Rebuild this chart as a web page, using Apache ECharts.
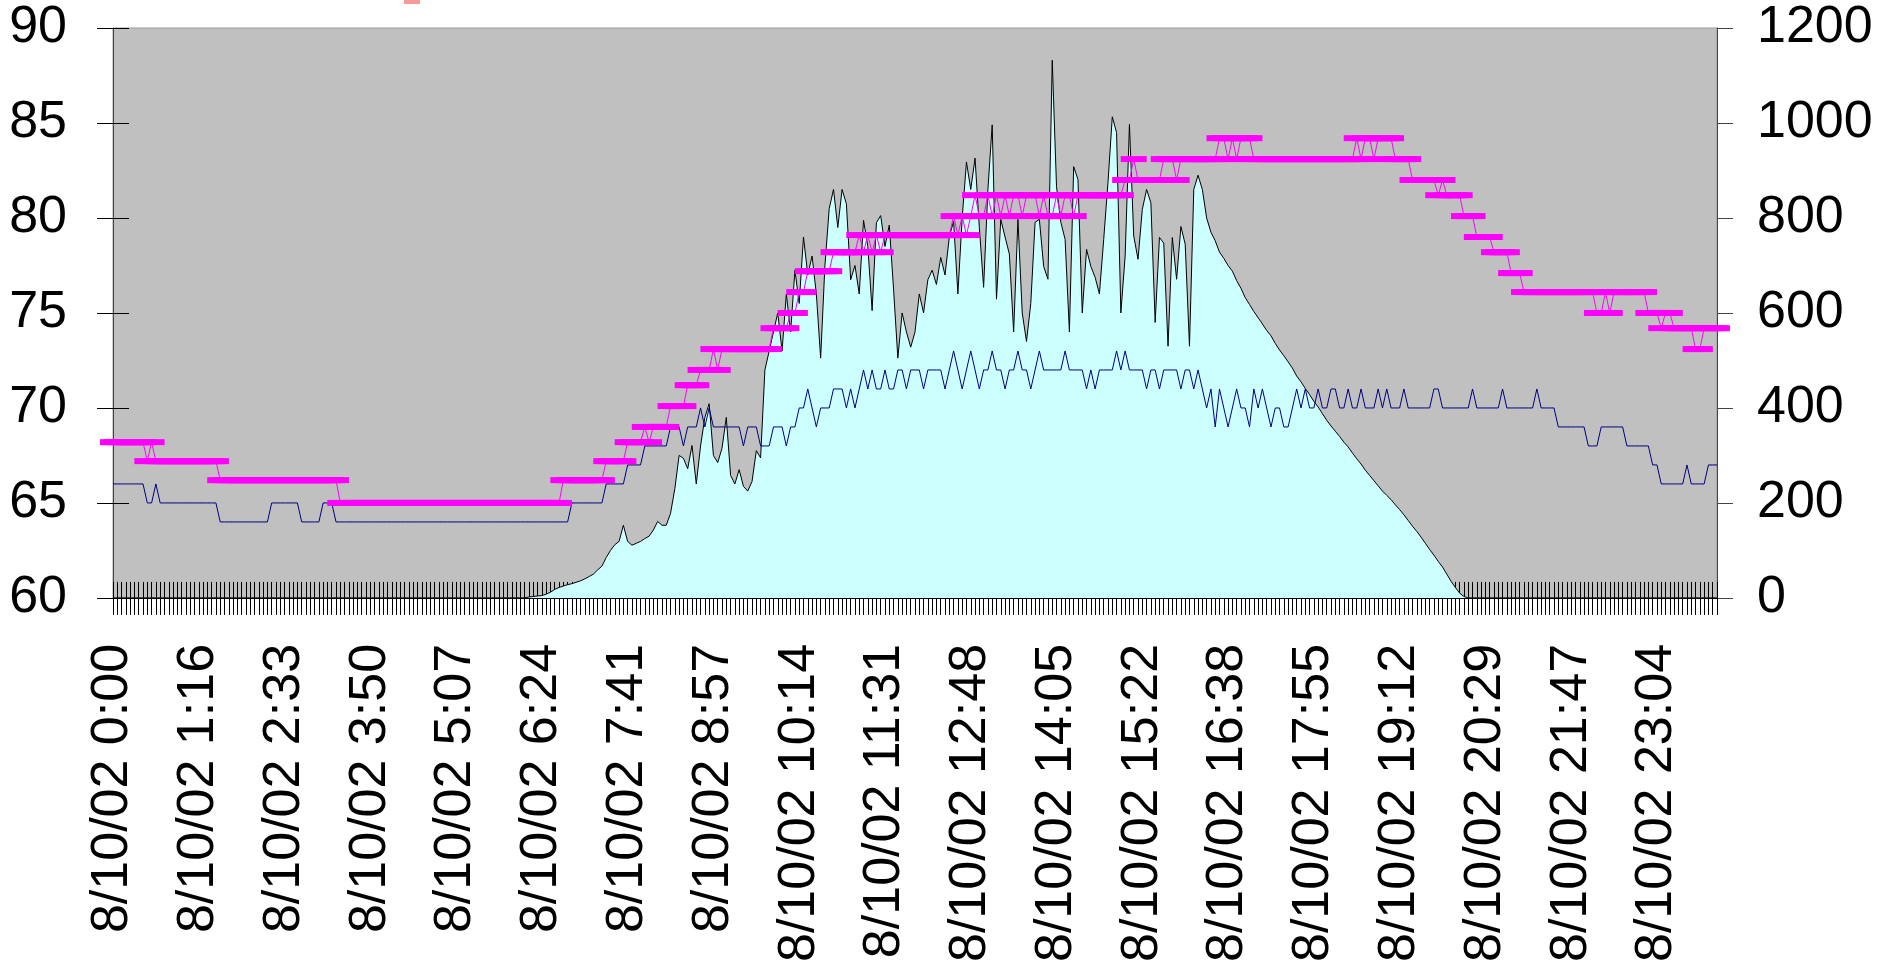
<!DOCTYPE html>
<html>
<head>
<meta charset="utf-8">
<script src="https://cdn.jsdelivr.net/npm/echarts@6/dist/echarts.min.js"></script>
<style>
  html, body { margin: 0; padding: 0; background: #ffffff; }
  #chart { width: 1884px; height: 965px; }
</style>
</head>
<body>
<div id="chart"></div>
<script>
// ---------------- DATA ----------------
// X-axis tick labels (one every 20 samples)
const tickLabels = ['8/10/02 0:00','8/10/02 1:16','8/10/02 2:33','8/10/02 3:50','8/10/02 5:07',
  '8/10/02 6:24','8/10/02 7:41','8/10/02 8:57','8/10/02 10:14','8/10/02 11:31','8/10/02 12:48',
  '8/10/02 14:05','8/10/02 15:22','8/10/02 16:38','8/10/02 17:55','8/10/02 19:12','8/10/02 20:29',
  '8/10/02 21:47','8/10/02 23:04'];
const LABEL_EVERY = 20;

// Values: a plain number is one sample, [value, count] is a run of equal samples.
// Solar radiation (right axis)
const solarRuns = [[0, 97],
  2, 3, 4, 5, 8, 12, 18, 22, 25, 28, 30, 33, 36, 40, 45, 50,
  59, 67, 85, 100, 112, 119, 153, 119, 111, 115,
  119, 125, 130, 143, 161, 153, 153, 178, 230, 300,
  294, 272, 321, 240, 320, 380, 409, 300, 285, 315,
  380, 258, 240, 270, 235, 225, 245, 310, 295,
  480, 520, 560, 600, 520, 640, 560, 690, 620, 760,
  680, 720, 640, 505, 700, 820, 860, 780, 860, 830,
  670, 700, 640, 795, 740, 605, 790, 805, 740, 785,
  650, 505, 600, 560, 528, 560, 640, 600, 670, 690,
  660, 717, 680, 760, 793, 640, 800, 918, 860, 926,
  780, 654, 860, 996, 629,
  797, 760, 724, 560, 797, 600, 540, 620, 791, 797,
  698, 671, 1132, 866, 791, 755, 560, 908, 881, 600,
  734, 698, 675, 640, 755, 875, 1013, 980, 600, 720,
  997, 762, 713, 818, 860, 832, 580, 759, 747, 530,
  759, 671, 782, 745, 530,
  860, 890, 860, 800, 770, 752, 728, 715, 700, 688,
  668, 652, 632, 618, 603, 590, 577, 563, 552, 536,
  522, 510, 497, 484, 467, 455, 441, 428, 414, 402,
  388, 374, 362, 351, 340, 328, 318, 305, 293, 282,
  269, 258, 247, 236, 225, 216, 207, 196, 186, 175,
  163, 151, 140, 128, 115, 102, 90, 77, 65, 50,
  35, 22, 10, 3, 0,
  [0, 58]];

// Blue series (left axis)
const blueRuns = [[66, 8], [65, 2], 66, [65, 14], [64, 12], [65, 7], [64, 5], [65, 3], [64, 55],
  [65, 8], [66, 5], [67, 4], [68, 6], [69, 3], 68, [69, 3], 70, 69, 70, [69, 7], 68, [69, 3],
  [68, 3], [69, 3], 68, [69, 2], [70, 2], 71, 70, 69, [70, 3], [71, 3], 70, 71, 70, 71, 72, 71,
  72, [71, 2], 72, [71, 2],
  72, 72, 71, 72, 72, 72, 71, 72, 72, 72, 72, 71,
  72, 73, 72, 71, 72, 73, 72, 71, 72, 72, 73, 72,
  72, 71, 72, 72, 73, 72, 72, 71, 72, 73, 72,
  72, 72, 72, 72, 73, 72, 72, 72,
  72, 71, 72, 71, 72, 72, 72,
  72, 73, 72, 73, 72, 72,
  72, 72, 71, 72, 72, 71, 72,
  72, 72, 72, 71, 72, 72, 71, 72,
  71, 70, 71, 69, 71, 70, 69, 70, 71,
  70, 70, 69, 71, 70, 71, 70, 69,
  70, 70, 69, 69, 70,
  71, 70, 71, 70, 70, 71, 70, 70, 71, 71, 70, 70, 71, 70, 70, 71, 70, 70, 70, 71, 70, 71, 70, 70, 70,
  71, 70, 70, 70, 70, 70, 70, 71, 71, 70, 70, 70, 70, 70, 70, 70, 71, 70, 70, 70, 70, 70, 70, 71,
  70, 70, 70, 70, 70, 70, 70, 71, 70, 70,
  70, 70, 69, 69, 69, 69, 69, 69, 69, 68, 68, 68, 69, 69, 69, 69, 69, 69, 68, 68,
  68, 68, 68, 68, 67, 67, 66, 66, 66, 66, 66, 66, 67, 66, 66, 66, 66, 67, 67, 67];

// Magenta series (left axis)
const magentaRuns = [[68.2, 8], 67.2, 68.2, [67.2, 15], [66.2, 28], [65.0, 52], [66.2, 10],
  [67.2, 5], [68.2, 4], 69.0, 68.2, [69.0, 4], [70.1, 4], [71.2, 3], [72.0, 3], 73.1, 72.0,
  [73.1, 12], [74.2, 4], [75.0, 2], [76.1, 2], [77.2, 6], [78.2, 6],
  79.1, 78.2, 79.1, 78.2, 79.1, 78.2, [79.1, 16],
  80.1, 79.1, 80.1, 79.1, 80.1, 81.2, [80.1, 2], 81.2, 80.1, 81.2, 80.1, 81.2, 80.1,
  [81.2, 2], 80.1, [81.2, 3], 80.1, 81.2, [80.1, 2], 81.2, 80.1, [81.2, 2], 80.1, [81.2, 11],
  [82.0, 2], 83.1, [82.0, 6], [83.1, 3], 82.0, [83.1, 9], [84.2, 2], 83.1, 84.2, 83.1,
  [84.2, 3], [83.1, 24], 84.2, 83.1, [84.2, 2], 83.1, [84.2, 4], [83.1, 4], [82.0, 6], 81.2,
  82.0, [81.2, 4], [80.1, 3], [79.0, 4], [78.2, 4], [77.1, 3], [76.1, 17], [75.0, 2], 76.1,
  75.0, [76.1, 8], [75.0, 3], 74.2, [75.0, 2], [74.2, 5], [73.1, 2], [74.2, 4]];

// ---------------- BUILD ----------------
function expand(runs) {
  const out = [];
  runs.forEach(r => {
    if (Array.isArray(r)) { for (let k = 0; k < r[1]; k++) out.push(r[0]); }
    else out.push(r);
  });
  return out;
}
const solar = expand(solarRuns);
const blue = expand(blueRuns);
const magenta = expand(magentaRuns);
const N = Math.max(solar.length, blue.length, magenta.length);
const categories = Array.from({length: N}, (_, i) => String(i));

const FF = '"Liberation Sans", Arial, sans-serif';
const FS = 52;

const chart = echarts.init(document.getElementById('chart'), null, {renderer: 'canvas'});
const labelStyle = {fontFamily: FF, fontSize: FS, color: '#000'};

chart.setOption({
  animation: false,
  backgroundColor: '#ffffff',
  grid: {left: 113, right: 167, top: 28, bottom: 365, show: true,
         backgroundColor: '#c0c0c0', borderColor: '#9a9a9a', borderWidth: 1},
  graphic: [{type: 'rect', left: 404, top: 0, shape: {width: 16, height: 4},
             style: {fill: '#f59a9a'}, silent: true}],
  xAxis: [
    {type: 'category', data: categories, boundaryGap: false, position: 'bottom',
     axisLine: {show: true, lineStyle: {color: '#000', width: 1}},
     axisTick: {show: true, interval: 0, inside: false, length: 17, lineStyle: {color: '#000', width: 1}},
     axisLabel: Object.assign({interval: LABEL_EVERY - 1, rotate: 90, margin: 46,
       formatter: (v, idx) => (idx % LABEL_EVERY === 0 && tickLabels[idx / LABEL_EVERY]) ? tickLabels[idx / LABEL_EVERY] : ''},
       labelStyle),
     splitLine: {show: false}},
    {type: 'category', data: categories, boundaryGap: false, position: 'bottom',
     axisLine: {show: false},
     axisTick: {show: true, interval: 0, inside: true, length: 16, lineStyle: {color: '#000', width: 1}},
     axisLabel: {show: false}, splitLine: {show: false}}
  ],
  yAxis: [
    {type: 'value', position: 'left', min: 60, max: 90, interval: 5,
     axisLine: {show: true, lineStyle: {color: '#444', width: 1}},
     axisTick: {show: true, inside: false, length: 16, lineStyle: {color: '#000'}},
     axisLabel: Object.assign({margin: 46, formatter: v => String(v)}, labelStyle),
     splitLine: {show: false}},
    {type: 'value', position: 'right', min: 0, max: 1200, interval: 200,
     axisLine: {show: true, lineStyle: {color: '#444', width: 1}},
     axisTick: {show: true, inside: false, length: 16, lineStyle: {color: '#444'}},
     axisLabel: Object.assign({margin: 40, formatter: v => String(v)}, labelStyle),
     splitLine: {show: false}},
    {type: 'value', position: 'left', min: 60, max: 90, interval: 5,
     axisLine: {show: false},
     axisTick: {show: true, inside: true, length: 16, lineStyle: {color: '#000'}},
     axisLabel: {show: false}, splitLine: {show: false}}
  ],
  series: [
    {name: 'Solar', type: 'line', xAxisIndex: 0, yAxisIndex: 1, data: solar,
     symbol: 'none', smooth: false, z: 2,
     lineStyle: {color: '#000', width: 1},
     areaStyle: {color: '#ccffff', opacity: 1}},
    {name: 'Blue', type: 'line', xAxisIndex: 0, yAxisIndex: 0, data: blue,
     symbol: 'none', z: 3,
     lineStyle: {color: '#000080', width: 1}},
    {name: 'Magenta', type: 'line', xAxisIndex: 0, yAxisIndex: 0, data: magenta,
     symbol: 'rect', symbolSize: [26, 6], showAllSymbol: true, z: 4,
     itemStyle: {color: '#ff00ff'},
     lineStyle: {color: '#ff00ff', width: 1}}
  ]
});
</script>
</body>
</html>
